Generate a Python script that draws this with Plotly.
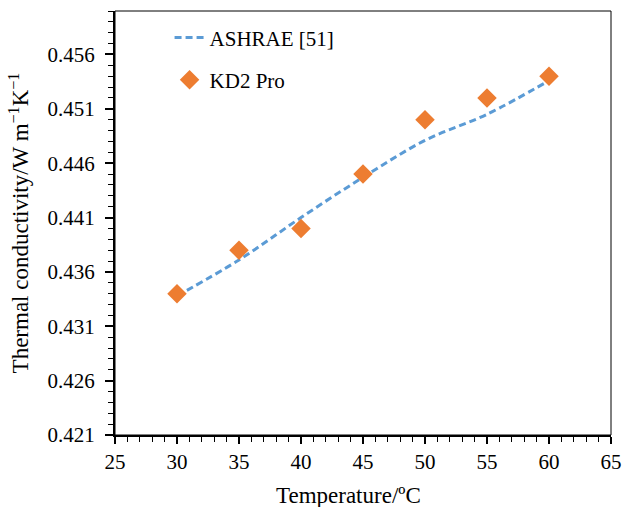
import plotly.graph_objects as go

temps = [30, 35, 40, 45, 50, 55, 60]
ashrae = [0.4338, 0.4371, 0.4410, 0.4447, 0.4481, 0.4505, 0.4536]
kd2 = [0.434, 0.438, 0.440, 0.445, 0.450, 0.452, 0.454]

x_ticks = [25, 30, 35, 40, 45, 50, 55, 60, 65]
y_ticks = [0.421, 0.426, 0.431, 0.436, 0.441, 0.446, 0.451, 0.456]

FONT = "Liberation Serif"

fig = go.Figure()
fig.add_trace(go.Scatter(
    x=temps, y=ashrae, mode="lines", name="ASHRAE [51]",
    line=dict(color="#5B9BD5", width=3, dash="7px,4px", shape="spline"),
    legendgroup="a",
))
fig.add_trace(go.Scatter(
    x=temps, y=kd2, mode="markers", name="KD2 Pro",
    marker=dict(symbol="diamond", color="#ED7D31", size=15, line=dict(width=0)),
    legendgroup="b",
))

fig.update_layout(
    width=622, height=507,
    margin=dict(l=115, r=11, t=11, b=72),
    paper_bgcolor="white", plot_bgcolor="white",
    font=dict(family=FONT, size=21, color="black"),
    showlegend=True,
    legend=dict(x=0.11, y=0.985, xanchor="left", yanchor="top",
                bgcolor="rgba(0,0,0,0)", font=dict(family=FONT, size=21),
                tracegroupgap=12),
    xaxis=dict(
        range=[25, 65], tickvals=x_ticks, ticktext=[str(v) for v in x_ticks],
        showgrid=False, zeroline=False, automargin=False,
        showline=True, linecolor="black", linewidth=2,
        ticks="outside", ticklen=7, tickwidth=1.5, tickcolor="black",
        minor=dict(dtick=1, tick0=25, ticks="outside", ticklen=5, tickwidth=1, tickcolor="black", showgrid=False),
        ticklabelstandoff=0, ticklabeloverflow="allow",
        tickfont=dict(family=FONT, size=21),
    ),
    yaxis=dict(
        range=[0.421, 0.460], tickvals=y_ticks, ticktext=[f"{v:.3f}" for v in y_ticks],
        showgrid=False, zeroline=False, automargin=False,
        showline=True, linecolor="black", linewidth=2,
        ticks="outside", ticklen=8, tickwidth=1.5, tickcolor="black",
        minor=dict(dtick=0.001, tick0=0.421, ticks="outside", ticklen=5, tickwidth=1, tickcolor="black", showgrid=False),
        ticklabelstandoff=6, ticklabeloverflow="allow",
        tickfont=dict(family=FONT, size=21),
        title=dict(text="Thermal conductivity/W m<sup>−1</sup>K<sup>−1</sup>", font=dict(family=FONT, size=23), standoff=12),
    ),
    annotations=[dict(text="Temperature/ºC", xref="paper", yref="paper",
                      x=0.47, y=-0.142, xanchor="center", yanchor="middle",
                      showarrow=False, font=dict(family=FONT, size=23))],
    shapes=[dict(type="rect", xref="paper", yref="paper", x0=0, y0=0, x1=1, y1=1,
                 line=dict(color="black", width=1), fillcolor="rgba(0,0,0,0)", layer="above")],
)

fig.write_html("out.html")
